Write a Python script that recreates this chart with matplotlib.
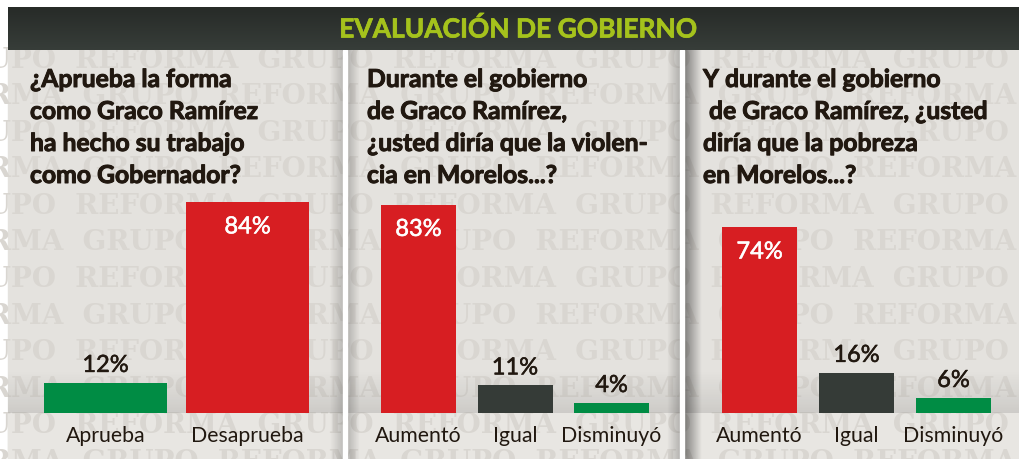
import matplotlib.pyplot as plt
import matplotlib.patheffects as pe
from matplotlib.patches import Rectangle
import numpy as np

W, H = 1020, 459

TITLE = "EVALUACIÓN DE GOBIERNO"

q1_lines = ["¿Aprueba la forma", "como Graco Ramírez", "ha hecho su trabajo", "como Gobernador?"]
q1_labels = ["Aprueba", "Desaprueba"]
q1_values = [12, 84]

q2_lines = ["Durante el gobierno", "de Graco Ramírez,", "¿usted diría que la violen-", "cia en Morelos...?"]
q2_labels = ["Aumentó", "Igual", "Disminuyó"]
q2_values = [83, 11, 4]

q3_lines = ["Y durante el gobierno", " de Graco Ramírez, ¿usted", "diría que la pobreza", "en Morelos...?"]
q3_labels = ["Aumentó", "Igual", "Disminuyó"]
q3_values = [74, 16, 6]

RED = "#d71e22"
GREEN = "#008c44"
GRAY = "#353b37"
BG = "#e4e2de"
WM = "#d9d6d1"
INK = "#211810"

q1_colors = [GREEN, RED]
q2_colors = [RED, GRAY, GREEN]
q3_colors = [RED, GRAY, GREEN]

plt.rcParams["font.family"] = ["Lato", "DejaVu Sans"]

fig = plt.figure(figsize=(W / 100, H / 100), dpi=100)
fig.patch.set_facecolor("white")

bg = fig.add_axes([0, 0, 1, 1])
bg.axis("off")

# panels (pixel layout)
panels = [(8, 343), (347, 680), (684, 1020)]
for x0, x1 in panels:
    bg.add_patch(Rectangle((x0, 50), x1 - x0, H - 50, color=BG, zorder=0))
    bg.add_patch(Rectangle((x0, 413), x1 - x0, H - 413, color="#e8e6e2", zorder=0.5))

# watermark rows
row = "GRUPO  REFORMA  " * 6
for k, y in enumerate(np.arange(60, 470, 36.6)):
    off = -60 if k % 2 == 0 else -235
    bg.text(off, y, row, fontsize=20, family="DejaVu Serif", weight="bold",
            color=WM, va="center", ha="left", zorder=1, clip_on=True)


def shade(x0, x1, y0, y1, a0, a1, horizontal=True, n=64):
    t = np.linspace(a0, a1, n)
    arr = np.zeros((1, n, 4)) if horizontal else np.zeros((n, 1, 4))
    arr[..., 3] = t if horizontal else t[:, None]
    bg.imshow(arr, extent=(x0, x1, y1, y0), aspect="auto",
              interpolation="bilinear", zorder=2)


# bottom shading above baseline
for x0, x1 in panels:
    shade(x0, x1, 370, 413, 0.0, 0.10, horizontal=False)
# edge shadows
shade(330, 343, 50, H, 0.0, 0.18)
shade(347, 360, 50, H, 0.22, 0.0)
shade(667, 680, 50, H, 0.0, 0.22)
shade(684, 702, 50, H, 0.45, 0.0)
# white gaps
for gx in (343, 680):
    bg.add_patch(Rectangle((gx, 50), 4, H - 50, color="white", zorder=3))

# header
bg.add_patch(Rectangle((0, 0), W, 7, color="white", zorder=4))
hdr = np.zeros((32, 1, 3))
top_c = np.array([0x27, 0x2b, 0x28]) / 255
bot_c = np.array([0x37, 0x3d, 0x39]) / 255
hdr[:, 0, :] = top_c + (bot_c - top_c) * np.linspace(0, 1, 32)[:, None]
bg.imshow(hdr, extent=(8, W, 50, 7), aspect="auto", interpolation="bilinear", zorder=5)
bg.text(518, 29, TITLE, fontsize=19, weight="bold", color="#a5c21c",
        ha="center", va="center", zorder=6,
        path_effects=[pe.withStroke(linewidth=0.5, foreground="#a5c21c")])

# questions
heavy = [pe.withStroke(linewidth=0.7, foreground=INK)]
q_x = [30, 367, 703]
for qx, lines in zip(q_x, [q1_lines, q2_lines, q3_lines]):
    for j, line in enumerate(lines):
        bg.text(qx, 87 + j * 32, line, fontsize=17.8, weight="bold", color=INK,
                ha="left", va="baseline", zorder=6, path_effects=heavy)

bg.set_xlim(0, W)
bg.set_ylim(H, 0)

# bar axes
layout = [(105.5, 142, 123), (418.5, 96.5, 75), (759.5, 97, 75)]
data = [(q1_labels, q1_values, q1_colors),
        (q2_labels, q2_values, q2_colors),
        (q3_labels, q3_values, q3_colors)]
base_y, top_y = 413, 162
for (x0, x1), (c0, step, w), (labels, values, colors) in zip(panels, layout, data):
    ax = fig.add_axes([x0 / W, 1 - base_y / H, (x1 - x0) / W, (base_y - top_y) / H])
    ax.set_facecolor("none")
    idx = np.arange(len(values))
    ax.bar(idx, values, width=w / step, color=colors, zorder=3)
    ax.set_xlim((x0 - c0) / step, (x1 - c0) / step)
    ax.set_ylim(0, 100)
    for s in ax.spines.values():
        s.set_visible(False)
    ax.set_yticks([])
    ax.set_xticks(idx)
    ax.set_xticklabels(labels, fontsize=15.3, color=INK)
    ax.tick_params(axis="x", length=0, pad=9)
    for i, (v, c) in enumerate(zip(values, colors)):
        if c == RED:
            ax.annotate(f"{v}%", (i, v), xytext=(0, -22.5), textcoords="offset points",
                        ha="center", va="baseline", fontsize=17, color="white",
                        path_effects=[pe.withStroke(linewidth=0.4, foreground="white")])
        else:
            ax.annotate(f"{v}%", (i, v), xytext=(0, 7.9), textcoords="offset points",
                        ha="center", va="baseline", fontsize=17, color=INK,
                        path_effects=[pe.withStroke(linewidth=0.4, foreground=INK)])

fig.savefig("out.png", dpi=100)
